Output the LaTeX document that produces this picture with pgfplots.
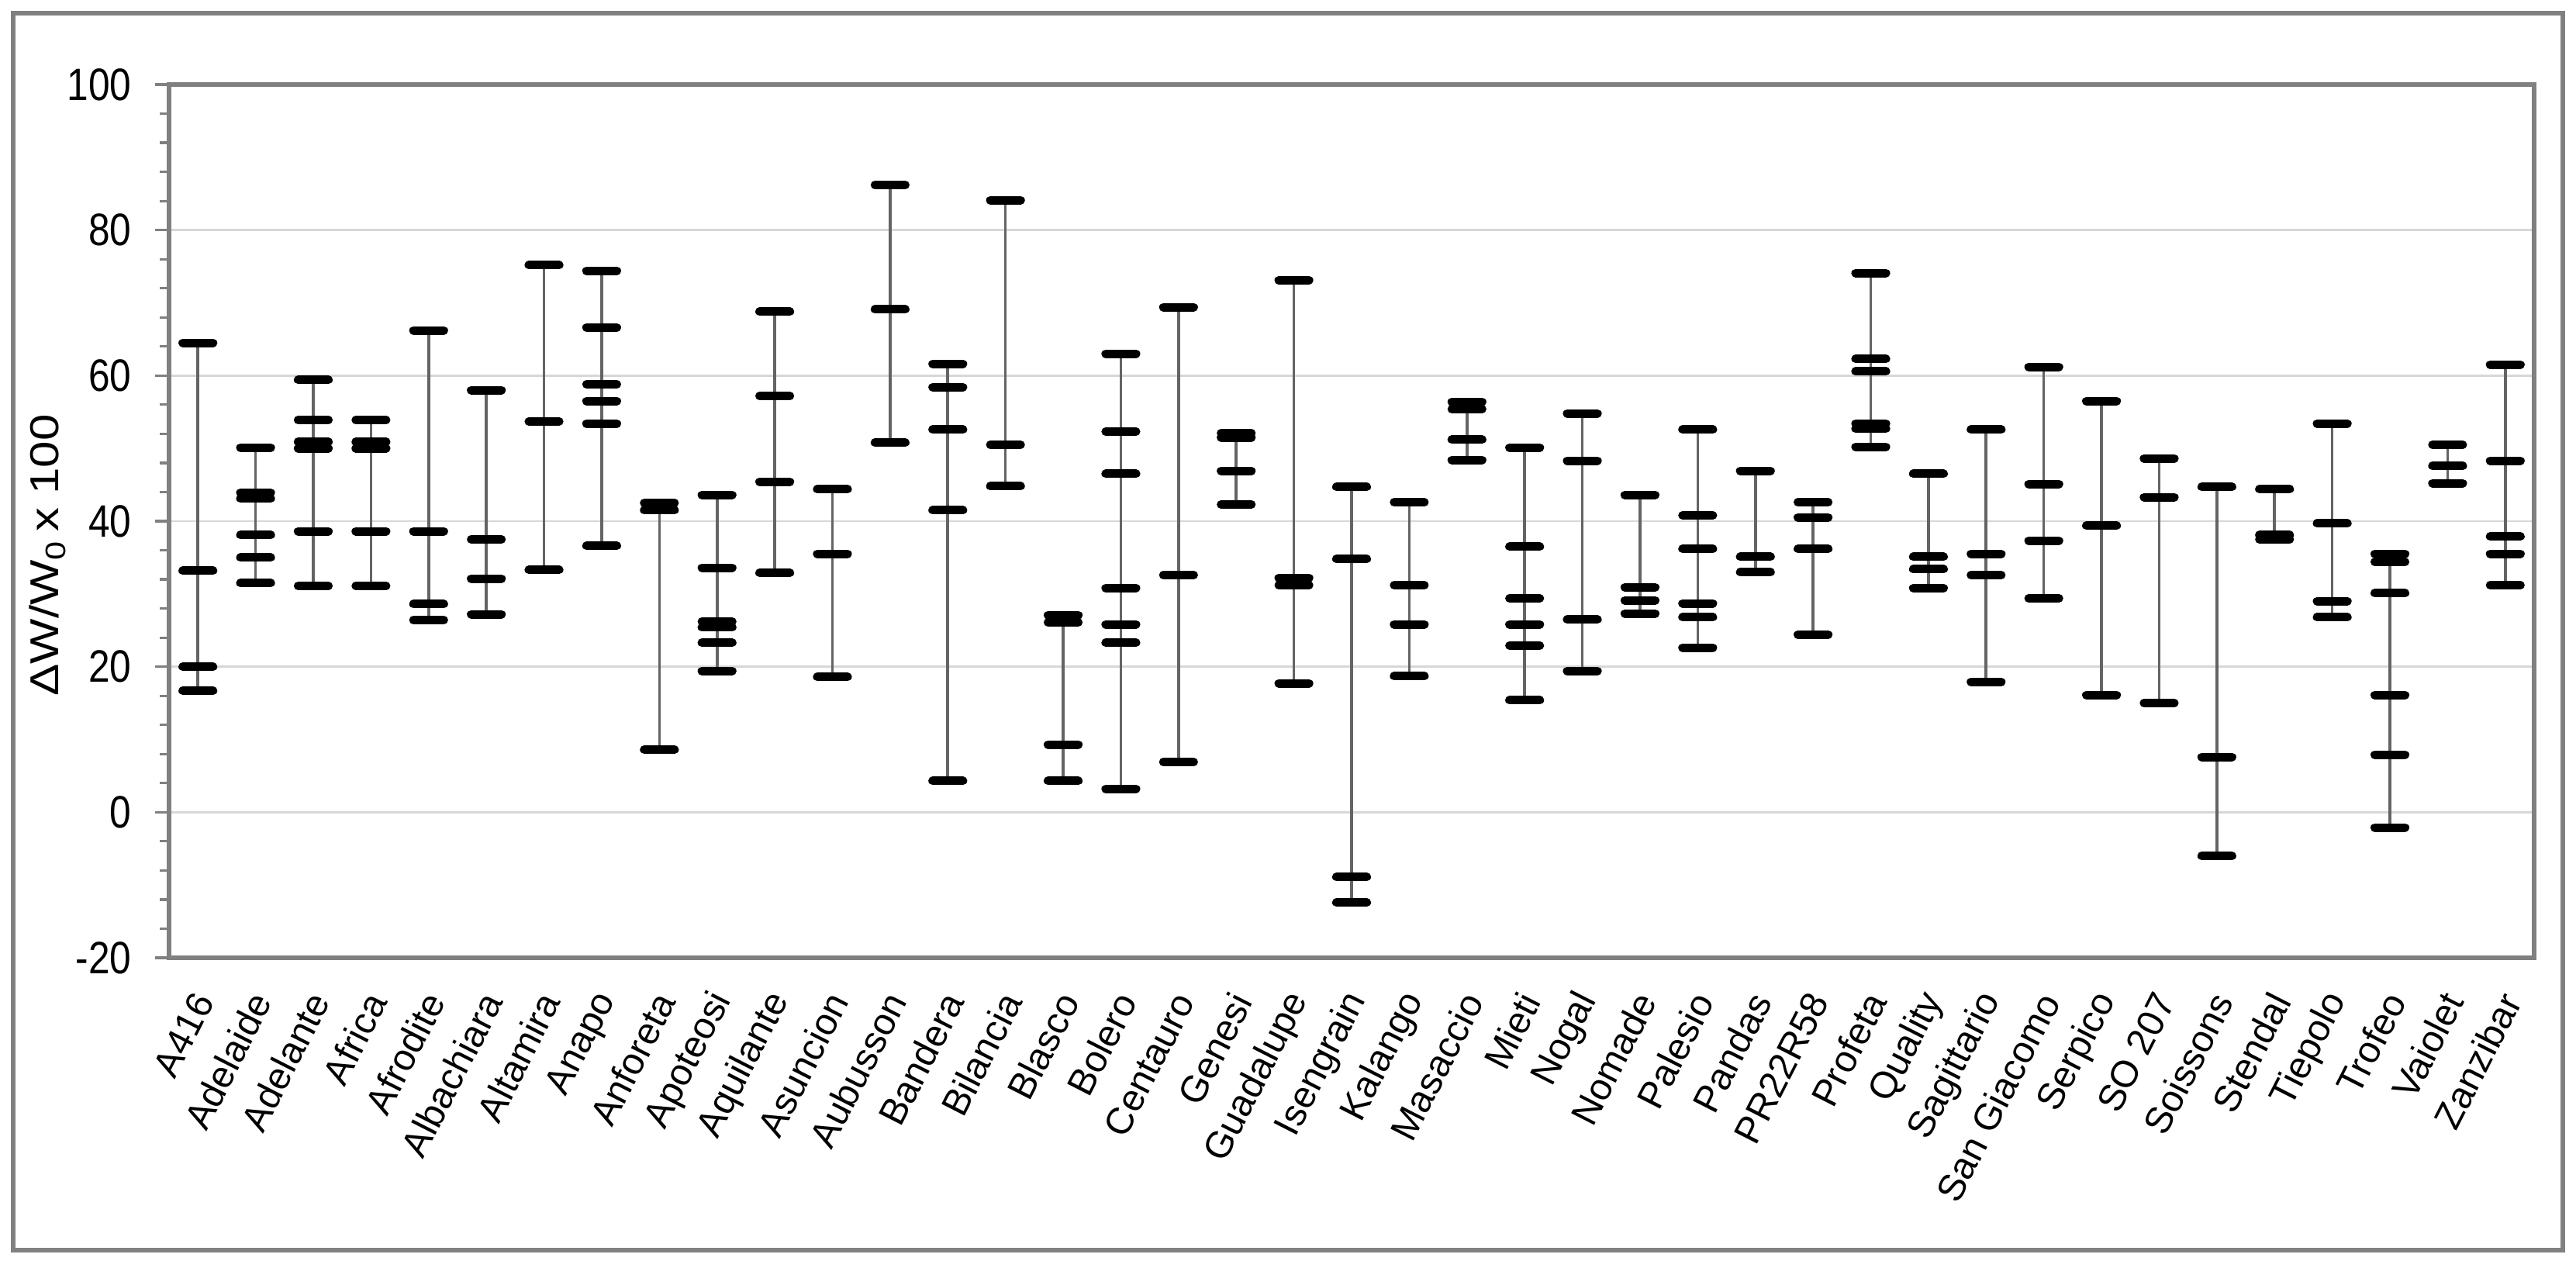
\documentclass[border=0pt]{standalone}
\usepackage{fontspec}
\setmainfont{Liberation Sans}
\usepackage{pgfplots}
\pgfplotsset{compat=1.18}
\definecolor{axgray}{RGB}{128,128,128}
\definecolor{gridgray}{RGB}{215,215,215}
\definecolor{whisk}{RGB}{100,100,100}
\newcommand{\ty}[1]{\scalebox{1}[1.18]{#1}}
\begin{document}
\begin{tikzpicture}
\begin{axis}[
  at={(54.5pt,100pt)}, anchor=south west,
  width=762.5pt, height=281.5pt, scale only axis,
  xmin=-0.5, xmax=40.5, ymin=-20, ymax=100,
  xtick={0,...,40},
  xticklabels={A416,Adelaide,Adelante,Africa,Afrodite,Albachiara,Altamira,Anapo,Anforeta,Apoteosi,Aquilante,Asuncion,Aubusson,Bandera,Bilancia,Blasco,Bolero,Centauro,Genesi,Guadalupe,Isengrain,Kalango,Masaccio,Mieti,Nogal,Nomade,Palesio,Pandas,PR22R58,Profeta,Quality,Sagittario,San Giacomo,Serpico,SO 207,Soissons,Stendal,Tiepolo,Trofeo,Vaiolet,Zanzibar},
  ytick={-20,0,20,40,60,80,100},
  yticklabels={\ty{-20},\ty{0},\ty{20},\ty{40},\ty{60},\ty{80},\ty{100}},
  minor y tick num=4,
  ytick pos=left,
  tick align=outside,
  major tick length=4.5pt, minor tick length=3pt,
  x tick style={draw=none},
  y tick style={draw=axgray, line width=0.8pt},
  ymajorgrids,
  major grid style={draw=gridgray, line width=0.6pt},
  axis line style={draw=axgray, line width=1.3pt},
  yticklabel style={anchor=east, inner sep=0pt, xshift=-7.5pt, font=\fontsize{12.4}{12.4}\selectfont},
  xticklabel style={xshift=1.9pt, yshift=-7.6pt, rotate=63, anchor=east, inner sep=0pt, font=\fontsize{12.1}{12.1}\selectfont},
  ylabel={\scalebox{1.19}[1]{ΔW/W\textsubscript{0}\,x 100}},
  every axis y label/.style={at={(axis description cs:-0.0515,0.461)}, rotate=90, anchor=center, font=\fontsize{13}{13}\selectfont},
  clip=false,
]
\addplot[draw=whisk, line width=0.9pt, unbounded coords=jump, mark=none] coordinates {
(0,16.7)(0,64.5)(0,nan)
(1,31.5)(1,50.1)(1,nan)
(2,31.1)(2,59.4)(2,nan)
(3,31.1)(3,53.9)(3,nan)
(4,26.4)(4,66.2)(4,nan)
(5,27.2)(5,58.0)(5,nan)
(6,33.3)(6,75.2)(6,nan)
(7,36.6)(7,74.4)(7,nan)
(8,8.6)(8,42.5)(8,nan)
(9,19.4)(9,43.6)(9,nan)
(10,32.9)(10,68.8)(10,nan)
(11,18.6)(11,44.4)(11,nan)
(12,50.8)(12,86.2)(12,nan)
(13,4.3)(13,61.6)(13,nan)
(14,44.8)(14,84.1)(14,nan)
(15,4.3)(15,27.1)(15,nan)
(16,3.2)(16,63.0)(16,nan)
(17,6.9)(17,69.4)(17,nan)
(18,42.3)(18,52.1)(18,nan)
(19,17.7)(19,73.1)(19,nan)
(20,-12.4)(20,44.7)(20,nan)
(21,18.7)(21,42.6)(21,nan)
(22,48.4)(22,56.4)(22,nan)
(23,15.4)(23,50.1)(23,nan)
(24,19.4)(24,54.8)(24,nan)
(25,27.3)(25,43.6)(25,nan)
(26,22.6)(26,52.6)(26,nan)
(27,33.0)(27,46.9)(27,nan)
(28,24.4)(28,42.6)(28,nan)
(29,50.2)(29,74.1)(29,nan)
(30,30.8)(30,46.5)(30,nan)
(31,17.9)(31,52.6)(31,nan)
(32,29.4)(32,61.2)(32,nan)
(33,16.1)(33,56.5)(33,nan)
(34,15.0)(34,48.6)(34,nan)
(35,-6.0)(35,44.7)(35,nan)
(36,37.5)(36,44.4)(36,nan)
(37,26.8)(37,53.4)(37,nan)
(38,-2.1)(38,35.5)(38,nan)
(39,45.2)(39,50.5)(39,nan)
(40,31.2)(40,61.5)
};
\addplot[only marks, mark=-, mark size=4.9pt, mark options={draw=black, line width=2.75pt, line cap=round}] coordinates {
(0,64.5)(0,33.2)(0,20.0)(0,16.7)
(1,50.1)(1,43.9)(1,43.1)(1,38.1)(1,35.0)(1,31.5)
(2,59.4)(2,53.9)(2,50.9)(2,50.0)(2,38.6)(2,31.1)
(3,53.9)(3,50.9)(3,50.0)(3,38.6)(3,31.1)
(4,66.2)(4,38.6)(4,28.6)(4,26.4)
(5,58.0)(5,37.5)(5,32.1)(5,27.2)
(6,75.2)(6,53.7)(6,33.3)
(7,74.4)(7,66.6)(7,58.8)(7,56.5)(7,53.4)(7,36.6)
(8,42.5)(8,41.5)(8,8.6)
(9,43.6)(9,33.6)(9,26.2)(9,25.4)(9,23.3)(9,19.4)
(10,68.8)(10,57.2)(10,45.4)(10,32.9)
(11,44.4)(11,35.5)(11,18.6)
(12,86.2)(12,69.1)(12,50.8)
(13,61.6)(13,58.4)(13,52.6)(13,41.5)(13,4.3)
(14,84.1)(14,50.5)(14,44.8)
(15,27.1)(15,26.1)(15,9.3)(15,4.3)
(16,63.0)(16,52.3)(16,46.5)(16,30.8)(16,25.8)(16,23.3)(16,3.2)
(17,69.4)(17,32.6)(17,6.9)
(18,52.1)(18,51.5)(18,46.9)(18,42.3)
(19,73.1)(19,32.2)(19,31.2)(19,17.7)
(20,44.7)(20,34.8)(20,-8.9)(20,-12.4)
(21,42.6)(21,31.2)(21,25.8)(21,18.7)
(22,56.4)(22,55.4)(22,51.2)(22,48.4)
(23,50.1)(23,36.5)(23,29.4)(23,25.8)(23,22.9)(23,15.4)
(24,54.8)(24,48.3)(24,26.5)(24,19.4)
(25,43.6)(25,30.9)(25,29.1)(25,27.3)
(26,52.6)(26,40.8)(26,36.2)(26,28.7)(26,26.8)(26,22.6)
(27,46.9)(27,35.1)(27,33.0)
(28,42.6)(28,40.5)(28,36.2)(28,24.4)
(29,74.1)(29,62.3)(29,60.6)(29,53.4)(29,52.7)(29,50.2)
(30,46.5)(30,35.1)(30,33.4)(30,30.8)
(31,52.6)(31,35.5)(31,32.6)(31,17.9)
(32,61.2)(32,45.1)(32,37.3)(32,29.4)
(33,56.5)(33,39.4)(33,16.1)
(34,48.6)(34,43.3)(34,15.0)
(35,44.7)(35,7.6)(35,-6.0)
(36,44.4)(36,38.1)(36,37.5)
(37,53.4)(37,39.7)(37,29.0)(37,26.8)
(38,35.5)(38,34.4)(38,30.1)(38,16.1)(38,7.9)(38,-2.1)
(39,50.5)(39,47.6)(39,45.2)
(40,61.5)(40,48.3)(40,37.9)(40,35.5)(40,31.2)
};
\end{axis}
\draw[draw=axgray, line width=1.5pt] (4.25pt,5.75pt) rectangle (826.25pt,404.5pt);
\pgfresetboundingbox
\useasboundingbox (0,0) rectangle (830.5pt,408.75pt);
\end{tikzpicture}
\end{document}
